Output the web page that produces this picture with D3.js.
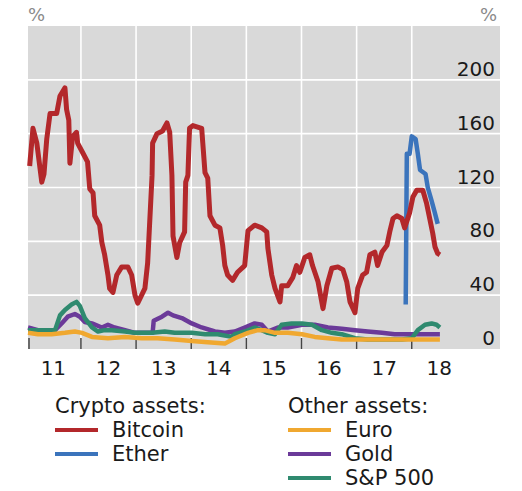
<!DOCTYPE html>
<html><head><meta charset="utf-8">
<script src="https://cdn.jsdelivr.net/npm/d3@7"></script>
<style>
html,body{margin:0;padding:0;background:#fff;}
svg{display:block;font-family:"DejaVu Sans","Noto Sans",sans-serif;}
</style></head>
<body><svg id="c" width="522" height="491"></svg>
<script>
// decimal year, value (%)
const bitcoin = [[2011.07,136],[2011.13,164],[2011.20,153],[2011.29,124],[2011.33,130],[2011.38,156],[2011.44,175],[2011.56,175],[2011.62,188],[2011.71,194],[2011.74,178],[2011.78,170],[2011.80,138],[2011.85,158],[2011.92,161],[2011.94,153],[2012.03,146],[2012.12,139],[2012.16,119],[2012.22,116],[2012.25,99],[2012.34,92],[2012.38,79],[2012.43,70],[2012.49,55],[2012.52,45],[2012.58,42],[2012.65,55],[2012.74,61],[2012.85,61],[2012.92,55],[2012.98,40],[2013.03,34],[2013.16,45],[2013.21,64],[2013.29,129],[2013.30,153],[2013.38,160],[2013.48,162],[2013.56,168],[2013.61,161],[2013.65,129],[2013.67,84],[2013.74,68],[2013.79,79],[2013.88,87],[2013.90,124],[2013.94,129],[2013.97,164],[2014.03,166],[2014.19,164],[2014.21,153],[2014.25,131],[2014.30,127],[2014.34,99],[2014.43,92],[2014.52,90],[2014.57,77],[2014.61,62],[2014.66,55],[2014.75,51],[2014.84,57],[2014.97,62],[2015.03,88],[2015.15,92],[2015.28,90],[2015.37,87],[2015.39,75],[2015.46,55],[2015.52,45],[2015.61,35],[2015.64,47],[2015.75,47],[2015.84,53],[2015.91,62],[2015.97,57],[2016.06,68],[2016.15,70],[2016.20,62],[2016.30,50],[2016.39,30],[2016.46,47],[2016.55,60],[2016.66,61],[2016.75,59],[2016.82,50],[2016.88,35],[2016.97,27],[2017.02,45],[2017.11,55],[2017.18,57],[2017.24,70],[2017.33,72],[2017.38,62],[2017.46,72],[2017.55,77],[2017.60,87],[2017.66,97],[2017.73,99],[2017.82,97],[2017.87,90],[2017.96,101],[2018.02,113],[2018.09,118],[2018.20,118],[2018.27,108],[2018.33,96],[2018.38,86],[2018.42,76],[2018.47,71],[2018.51,70]];
const ether = [[2017.89,33],[2017.91,145],[2017.96,145],[2018.00,158],[2018.07,156],[2018.11,145],[2018.15,133],[2018.25,130],[2018.29,120],[2018.36,110],[2018.42,101],[2018.47,93]];
const gold = [[2011.04,16],[2011.22,14],[2011.34,13],[2011.53,14],[2011.65,19],[2011.76,24],[2011.89,26],[2011.98,24],[2012.07,20],[2012.20,19],[2012.38,16],[2012.49,18],[2012.61,16],[2012.80,14],[2012.98,12],[2013.21,12],[2013.30,12],[2013.32,21],[2013.47,24],[2013.58,27],[2013.67,25],[2013.83,23],[2014.01,19],[2014.19,16],[2014.43,13],[2014.61,12],[2014.79,13],[2014.97,16],[2015.15,19],[2015.28,18],[2015.39,13],[2015.57,16],[2015.75,16],[2016.01,18],[2016.24,18],[2016.48,16],[2016.73,15],[2016.97,14],[2017.20,13],[2017.46,12],[2017.69,11],[2017.93,11],[2018.18,11],[2018.42,11],[2018.51,11]];
const sp500 = [[2011.04,14],[2011.53,14],[2011.62,25],[2011.71,29],[2011.83,33],[2011.92,35],[2011.98,32],[2012.07,23],[2012.20,16],[2012.31,13],[2012.43,14],[2012.56,14],[2012.80,13],[2012.98,12],[2013.29,12],[2013.52,13],[2013.70,12],[2014.01,12],[2014.25,11],[2014.48,11],[2014.74,9],[2014.79,11],[2014.97,13],[2015.15,16],[2015.28,14],[2015.39,12],[2015.52,11],[2015.64,18],[2015.82,19],[2016.01,19],[2016.19,18],[2016.37,14],[2016.55,12],[2016.73,11],[2016.97,8],[2017.20,7],[2017.51,7],[2017.82,7],[2018.00,8],[2018.11,14],[2018.24,18],[2018.36,19],[2018.45,18],[2018.51,16]];
const euro = [[2011.04,12],[2011.22,11],[2011.47,11],[2011.71,12],[2011.89,13],[2012.02,12],[2012.20,9],[2012.49,8],[2012.80,9],[2013.10,8],[2013.39,8],[2013.70,7],[2014.01,6],[2014.30,5],[2014.61,4],[2014.79,8],[2015.03,12],[2015.21,14],[2015.33,14],[2015.52,12],[2015.75,12],[2016.01,11],[2016.24,9],[2016.48,8],[2016.73,7],[2016.97,7],[2017.51,7],[2018.15,7],[2018.51,7]];
const yTicks = [0,40,80,120,160,200];
const years = [2012,2013,2014,2015,2016,2017,2018];
const yearLabels = ["11","12","13","14","15","16","17","18"];

const svg = d3.select("#c");
const x = d3.scaleLinear().domain([2011.04,2019.6]).range([28,500]);
const y = d3.scaleLinear().domain([0,240]).range([349,26]);

svg.append("rect").attr("x",28).attr("y",26).attr("width",472).attr("height",323).attr("fill","#d9d9d9");
// grid
svg.append("g").selectAll("line").data(yTicks.filter(d=>d>0)).join("line")
  .attr("x1",28).attr("x2",500).attr("y1",d=>y(d)).attr("y2",d=>y(d))
  .attr("stroke","#fff").attr("stroke-width",1.6);
svg.append("g").selectAll("line").data(years).join("line")
  .attr("x1",d=>x(d)).attr("x2",d=>x(d)).attr("y1",26).attr("y2",349)
  .attr("stroke","#fff").attr("stroke-width",1.6);
// ticks
svg.append("g").selectAll("line").data([2011.04].concat(years)).join("line")
  .attr("x1",d=>x(d)+ (d<2011.5?1:0)).attr("x2",d=>x(d)+(d<2011.5?1:0)).attr("y1",338).attr("y2",349)
  .attr("stroke","#444").attr("stroke-width",1.5);

const line = d3.line().x(d=>x(d[0])).y(d=>y(d[1]));
const series = [
  {data:gold,color:"#6b3a99",w:4.5},
  {data:sp500,color:"#2f8a6f",w:4.5},
  {data:euro,color:"#f0a830",w:4.5},
  {data:ether,color:"#3b74bc",w:4.5},
  {data:bitcoin,color:"#b3282b",w:5}
];
svg.append("g").selectAll("path").data(series).join("path")
  .attr("d",d=>line(d.data)).attr("fill","none")
  .attr("stroke",d=>d.color).attr("stroke-width",d=>d.w)
  .attr("stroke-linejoin","round").attr("stroke-linecap","butt");

// y labels
svg.append("g").selectAll("text").data(yTicks).join("text")
  .attr("x",495).attr("y",d=>y(d)-4).attr("text-anchor","end")
  .attr("font-size",20).attr("fill","#1a1a1a").text(d=>d);
// x labels
svg.append("g").selectAll("text").data(yearLabels).join("text")
  .attr("x",(d,i)=>x(2011.5+i)).attr("y",375).attr("text-anchor","middle")
  .attr("font-size",20).attr("fill","#1a1a1a").text(d=>d);
// % units
svg.append("text").attr("x",28).attr("y",21).attr("font-size",18).attr("fill","#8a8a8a").text("%");
svg.append("text").attr("x",497).attr("y",21).attr("text-anchor","end").attr("font-size",18).attr("fill","#8a8a8a").text("%");

// legend
const legendGroups = [
  {title:"Crypto assets:", x:55, items:[["Bitcoin","#b3282b"],["Ether","#3b74bc"]]},
  {title:"Other assets:", x:288, items:[["Euro","#f0a830"],["Gold","#6b3a99"],["S&P 500","#2f8a6f"]]}
];
legendGroups.forEach(g=>{
  svg.append("text").attr("x",g.x).attr("y",413).attr("font-size",21).attr("fill","#1a1a1a").text(g.title);
  g.items.forEach((it,i)=>{
    const yy = 430 + i*24;
    svg.append("line").attr("x1",g.x).attr("x2",g.x+43).attr("y1",yy).attr("y2",yy)
      .attr("stroke",it[1]).attr("stroke-width",4);
    svg.append("text").attr("x",g.x+57).attr("y",yy+7).attr("font-size",21).attr("fill","#1a1a1a").text(it[0]);
  });
});
</script></body></html>
